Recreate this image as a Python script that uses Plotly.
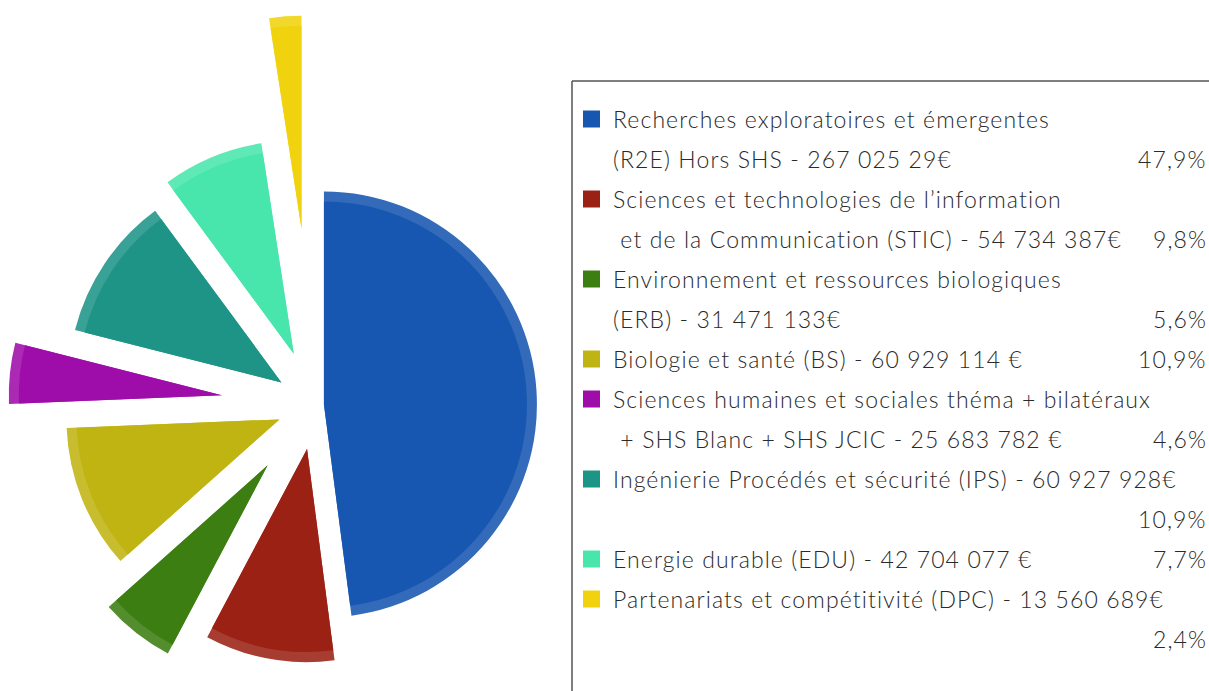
import math
import plotly.graph_objects as go

# ---------------- data ----------------
codes = ["R2E", "STIC", "ERB", "BS", "SHS", "IPS", "EDU", "DPC"]
amounts = [267025290, 54734387, 31471133, 60929114, 25683782, 60927928, 42704077, 13560689]
pct_labels = ["47,9%", "9,8%", "5,6%", "10,9%", "4,6%", "10,9%", "7,7%", "2,4%"]
legend_line1 = [
    "Recherches exploratoires et émergentes",
    "Sciences et technologies de l\u2019information",
    "Environnement et ressources biologiques",
    "Biologie et santé (BS) - 60 929 114 €",
    "Sciences humaines et sociales théma + bilatéraux",
    "Ingénierie Procédés et sécurité (IPS) - 60 927 928€",
    "Energie durable (EDU) - 42 704 077 €",
    "Partenariats et compétitivité (DPC) - 13 560 689€",
]
legend_line2 = [
    "(R2E) Hors SHS - 267 025 29€",
    " et de la Communication (STIC) - 54 734 387€",
    "(ERB) - 31 471 133€",
    None,
    " + SHS Blanc + SHS JCIC - 25 683 782 €",
    "",
    None,
    "",
]

# ---------------- style ----------------
colors = ["#1757B1", "#9B2115", "#3D7E12", "#C0B412", "#9E0DAA", "#1E9486", "#48E6AC", "#F0D30E"]
pulls = [0.042, 0.21, 0.36, 0.18, 0.44, 0.19, 0.26, 0.83]
W, H = 1209, 691
CX, CY, R, RIM = 315, 405, 213, 10
FONT = "Lato"
FSIZE = 23
SPACING = "1.1px"
TXT = "#2a2a2a"


def lighten(hexcol, f=0.12):
    h = hexcol.lstrip("#")
    r, g, b = (int(h[k:k + 2], 16) for k in (0, 2, 4))
    r, g, b = (round(c + (255 - c) * f) for c in (r, g, b))
    return f"rgb({r},{g},{b})"


def spaced(s):
    return f'<span style="letter-spacing:{SPACING}">{s}</span>'


fig = go.Figure()
total = sum(amounts)
start = 0.0
for i, v in enumerate(amounts):
    frac = v / total
    mid = (start + frac / 2) * 2 * math.pi
    start += frac
    d = pulls[i] * R
    cx = CX + d * math.sin(mid)
    cy = CY - d * math.cos(mid)
    for rad, col in ((R, lighten(colors[i])), (R - RIM, colors[i])):
        cols = ["rgba(0,0,0,0)"] * len(amounts)
        cols[i] = col
        fig.add_trace(go.Pie(
            values=amounts, labels=codes, sort=False, direction="clockwise", rotation=0,
            marker=dict(colors=cols, line=dict(width=0)),
            textinfo="none", hoverinfo="skip", showlegend=False,
            domain=dict(
                x=[max(0, (cx - rad) / W), min(1, (cx + rad) / W)],
                y=[max(0, 1 - (cy + rad) / H), min(1, 1 - (cy - rad) / H)],
            ),
        ))

# ---------------- custom legend ----------------
shapes = [
    dict(type="line", xref="paper", yref="paper", x0=572 / W, x1=1, y0=1 - 81 / H, y1=1 - 81 / H,
         line=dict(color="#555555", width=1.5)),
    dict(type="line", xref="paper", yref="paper", x0=572 / W, x1=572 / W, y0=1 - 81 / H, y1=0,
         line=dict(color="#555555", width=1.5)),
]
annotations = []
LINE0, STEP = 119, 40
font = dict(family=FONT, size=FSIZE, color=TXT, weight=300)
row = 0
for i in range(len(amounts)):
    y1 = LINE0 + STEP * row
    shapes.append(dict(type="rect", xref="paper", yref="paper",
                       x0=583 / W, x1=600 / W, y0=1 - (y1 + 8.5) / H, y1=1 - (y1 - 8.5) / H,
                       fillcolor=colors[i], line=dict(width=0)))
    annotations.append(dict(text=spaced(legend_line1[i]), x=611 / W, y=1 - y1 / H, xref="paper",
                            yref="paper", xanchor="left", yanchor="middle", showarrow=False, font=font))
    if legend_line2[i] is None:
        pct_y = y1
        row += 1
    else:
        pct_y = y1 + STEP
        if legend_line2[i]:
            annotations.append(dict(text=spaced(legend_line2[i]), x=611 / W, y=1 - pct_y / H, xref="paper",
                                    yref="paper", xanchor="left", yanchor="middle", showarrow=False,
                                    font=font))
        row += 2
    annotations.append(dict(text=spaced(pct_labels[i]), x=1, y=1 - pct_y / H, xref="paper",
                            yref="paper", xanchor="right", yanchor="middle", showarrow=False, font=font))

fig.update_layout(
    width=W, height=H, margin=dict(l=0, r=0, t=0, b=0),
    paper_bgcolor="white", plot_bgcolor="white",
    shapes=shapes, annotations=annotations, showlegend=False,
)
fig.write_html("out.html", config={"displayModeBar": False},
               post_script="document.body.style.margin='0';document.body.style.overflow='hidden';")
